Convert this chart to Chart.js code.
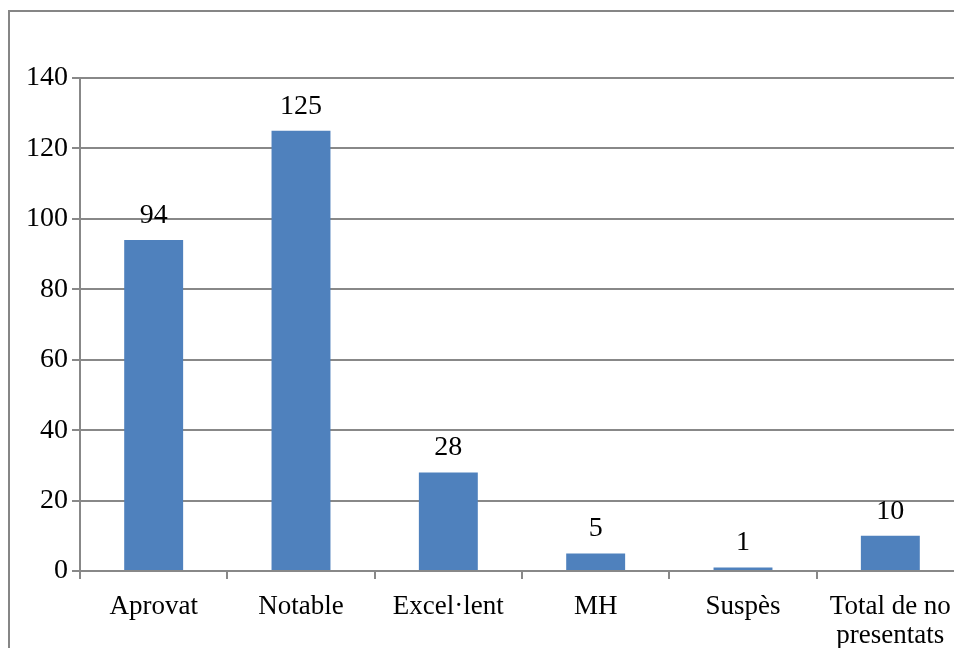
<!DOCTYPE html>
<html>
<head>
<meta charset="utf-8">
<script src="https://cdn.jsdelivr.net/npm/chart.js@4"></script>
<style>
html,body{margin:0;padding:0;width:954px;height:648px;overflow:hidden;background:#fff;}
#wrap{position:absolute;left:0;top:0;width:975px;height:648px;}
#frame{position:absolute;left:8px;top:10px;width:1000px;height:700px;border:2px solid #868686;box-sizing:border-box;}
</style>
</head>
<body>
<div id="frame"></div>
<div id="wrap"><canvas id="c" width="975" height="648"></canvas></div>
<script>
const categories = ["Aprovat", "Notable", "Excel·lent", "MH", "Suspès", ["Total de no", "presentats"]];
const values = [94, 125, 28, 5, 1, 10];
const yTicks = [0, 20, 40, 60, 80, 100, 120, 140];

const FONT = "'Liberation Serif', serif";
const gridColor = '#888888';

const valueLabels = {
  id: 'valueLabels',
  afterDatasetsDraw(chart) {
    const ctx = chart.ctx;
    const meta = chart.getDatasetMeta(0);
    ctx.save();
    ctx.font = "28px " + FONT;
    ctx.fillStyle = '#000';
    ctx.textAlign = 'center';
    ctx.textBaseline = 'alphabetic';
    meta.data.forEach((bar, i) => {
      ctx.fillText(String(values[i]), bar.x, bar.y - 17);
    });
    ctx.restore();
  }
};

new Chart(document.getElementById('c'), {
  type: 'bar',
  data: {
    labels: categories,
    datasets: [{
      data: values,
      backgroundColor: '#4F81BD',
      borderWidth: 0,
      categoryPercentage: 1.0,
      barPercentage: 0.4
    }]
  },
  options: {
    responsive: false,
    animation: false,
    devicePixelRatio: 1,
    layout: { padding: { left: 0, top: 78, right: 11, bottom: 0 } },
    plugins: { legend: { display: false }, tooltip: { enabled: false } },
    scales: {
      x: {
        offset: true,
        grid: { display: true, drawOnChartArea: false, drawTicks: true, tickLength: 8, color: gridColor, lineWidth: 2, offset: true },
        border: { display: true, color: gridColor, width: 2 },
        ticks: { color: '#000', font: { family: FONT, size: 27, lineHeight: 1.05 }, padding: 14, maxRotation: 0, autoSkip: false },
        afterFit(s) { s.height = 648 - 571; }
      },
      y: {
        min: 0, max: 140,
        afterBuildTicks(s) { s.ticks = yTicks.map(v => ({ value: v })); },
        grid: { color: gridColor, lineWidth: 2, drawTicks: true, tickLength: 8 },
        border: { display: true, color: gridColor, width: 2 },
        ticks: { color: '#000', font: { family: FONT, size: 28 }, padding: 4 },
        afterFit(s) { s.width = 80; }
      }
    }
  },
  plugins: [valueLabels]
});
</script>
</body>
</html>
